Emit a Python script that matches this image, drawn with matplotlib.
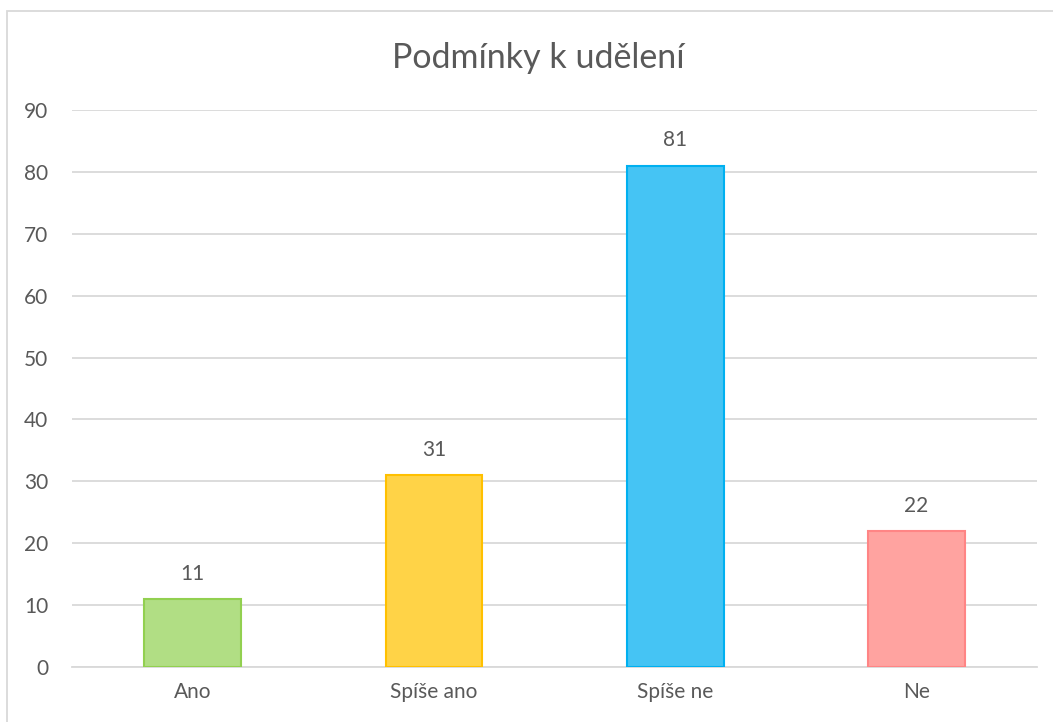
import matplotlib.pyplot as plt
from matplotlib.patches import Rectangle

categories = ["Ano", "Spíše ano", "Spíše ne", "Ne"]
values = [11, 31, 81, 22]
fill_colors = ["#b1de84", "#ffd347", "#45c4f4", "#ffa3a0"]
edge_colors = ["#92d050", "#ffc000", "#00b0f0", "#ff8585"]

plt.rcParams["font.family"] = ["Lato", "DejaVu Sans"]
text_color = "#595959"

fig = plt.figure(figsize=(10.53, 7.22), dpi=100)
ax = fig.add_axes([0.0684, 0.0762, 0.9166, 0.7714])

x = range(len(categories))
bars = ax.bar(x, values, width=0.4, color=fill_colors, edgecolor=edge_colors,
              linewidth=1.5, zorder=3)
for b, v in zip(bars, values):
    ax.annotate(str(v), (b.get_x() + b.get_width() / 2, v), xytext=(0, 11),
                textcoords="offset points", ha="center", va="bottom",
                fontsize=15, color=text_color)

ax.set_xlim(-0.5, len(categories) - 0.5)
ax.set_ylim(0, 90)
ax.set_yticks(range(0, 91, 10))
ax.set_xticks(list(x))
ax.set_xticklabels(categories)
ax.yaxis.grid(True, color="#d9d9d9", linewidth=1.3, zorder=0)
ax.tick_params(axis="both", length=0, labelsize=15, labelcolor=text_color)
ax.tick_params(axis="y", pad=17)
ax.tick_params(axis="x", pad=11)
for side in ["top", "right", "left"]:
    ax.spines[side].set_visible(False)
ax.spines["bottom"].set_color("#d9d9d9")
ax.spines["bottom"].set_linewidth(1.3)

fig.text(0.511, 0.92, "Podmínky k udělení", ha="center", va="center",
         fontsize=24.5, color=text_color)

# chart frame (extends past the image on right and bottom)
fig.patches.append(Rectangle((7 / 1053, -0.05), 1.1, 1 - 11 / 722 + 0.05,
                             transform=fig.transFigure, fill=False,
                             edgecolor="#d9d9d9", linewidth=1.3))

fig.savefig("out.png", dpi=100)
